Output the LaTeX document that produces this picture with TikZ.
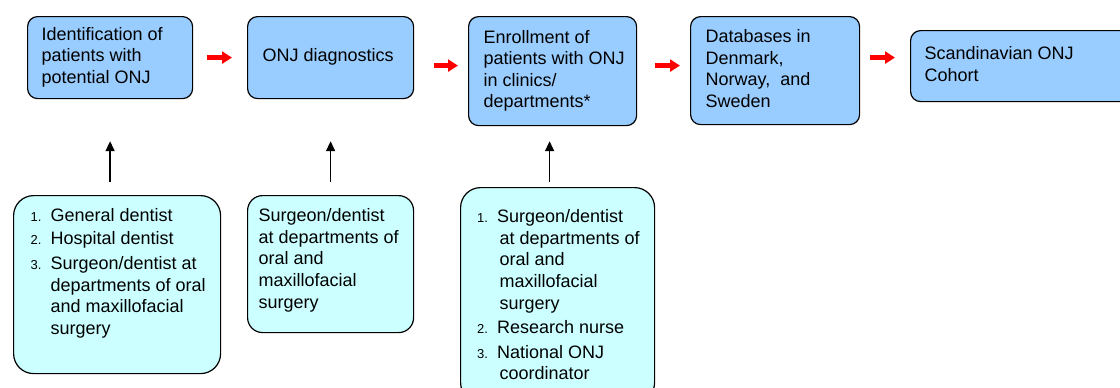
\documentclass[tikz,border=0pt]{standalone}
\usepackage{fontspec}
\setmainfont{Liberation Sans}
\usetikzlibrary{arrows.meta,calc}
\definecolor{topblue}{RGB}{153,204,255}
\definecolor{botcyan}{RGB}{204,255,255}
\newcommand\nb[1]{{\fontsize{13}{15}\selectfont #1}}
\begin{document}
\begin{tikzpicture}[x=1pt,y=-1pt,
  topbox/.style={draw=black,line width=1.2pt,fill=topblue,rounded corners=10pt,inner sep=0pt,anchor=north west},
  botbox/.style={draw=black,line width=1.2pt,fill=botcyan,rounded corners=18pt,inner sep=0pt,anchor=north west},
  flow/.style={red,line width=4.5pt,-{Triangle[length=10pt,width=12pt]}},
  feed/.style={black,line width=1.6pt,-{Triangle[length=10pt,width=9pt]}},
  font=\fontsize{18}{21.6}\selectfont]
\useasboundingbox (0,0) rectangle (1120,388);
\clip (0,0) rectangle (1120,388);

% top row
\node[topbox] (t1) at (27,16) {\parbox[c][82pt][c]{165pt}{\hspace*{14pt}\begin{tabular}[t]{@{}l@{}}Identification of\\patients with\\potential ONJ\end{tabular}}};
\node[topbox] (t2) at (247,16) {\parbox[c][82pt][c]{166pt}{\hspace*{15pt}\begin{tabular}[t]{@{}l@{}}ONJ diagnostics\end{tabular}}};
\node[topbox] (t3) at (468,16) {\parbox[c][109pt][c]{168pt}{\hspace*{15pt}\begin{tabular}[t]{@{}l@{}}Enrollment of\\patients with ONJ\\in clinics/\\departments*\end{tabular}}};
\node[topbox] (t4) at (690,16) {\parbox[c][108pt][c]{169pt}{\hspace*{15pt}\begin{tabular}[t]{@{}l@{}}Databases in\\Denmark,\\Norway,\ \ and\\Sweden\end{tabular}}};
\node[topbox] (t5) at (910,30) {\parbox[c][71pt][c]{220pt}{\hspace*{14pt}\begin{tabular}[t]{@{}l@{}}Scandinavian ONJ\\Cohort\end{tabular}}};

% bottom row
\node[botbox,rounded corners=20pt] (b1) at (13,195) {\parbox[c][178pt][t]{207pt}{\vspace*{11pt}\hspace*{17pt}\begin{tabular}[t]{@{}p{20pt}@{}l@{}}
\nb{1.} & General dentist\\[1.5pt]
\nb{2.} & Hospital dentist\\[3pt]
\nb{3.} & Surgeon/dentist at\\
 & departments of oral\\
 & and maxillofacial\\
 & surgery
\end{tabular}}};
\node[botbox,rounded corners=15pt] (b2) at (247,195) {\parbox[c][137pt][t]{166pt}{\vspace*{11pt}\hspace*{11pt}\begin{tabular}[t]{@{}l@{}}Surgeon/dentist\\at departments of\\oral and\\maxillofacial\\surgery\end{tabular}}};
\node[botbox,rounded corners=20pt] (b3) at (460,187) {\parbox[c][215pt][t]{194pt}{\vspace*{20pt}\hspace*{16.5pt}\begin{tabular}[t]{@{}p{20pt}@{}l@{}}
\nb{1.} & Surgeon/dentist\\
 & \hspace*{2.5pt}at departments of\\
 & \hspace*{2.5pt}oral and\\
 & \hspace*{2.5pt}maxillofacial\\
 & \hspace*{2.5pt}surgery\\[3pt]
\nb{2.} & Research nurse\\[3pt]
\nb{3.} & National ONJ\\
 & \hspace*{2.5pt}coordinator
\end{tabular}}};

% red flow arrows
\coordinate (a2) at ([yshift=5.5pt]t3.west);
\coordinate (a3) at ([yshift=5pt]t4.west);
\coordinate (a4) at ([yshift=8.5pt]t5.west);
\draw[flow,shorten <=14pt,shorten >=15pt] (t1.east) -- (t2.west);
\draw[flow,shorten <=20pt,shorten >=10pt] (t2.east |- a2) -- (a2);
\draw[flow,shorten <=18pt,shorten >=10pt] (t3.east |- a3) -- (a3);
\draw[flow,shorten <=10pt,shorten >=15pt] (t4.east |- a4) -- (a4);

% black feed arrows
\coordinate (f3) at ([xshift=-3pt]t3.south);
\draw[feed,shorten <=13pt,shorten >=42pt] (t1.south |- b1.north) -- (t1.south);
\draw[feed,shorten <=13pt,shorten >=42pt] (t2.south |- b2.north) -- (t2.south);
\draw[feed,shorten <=5pt,shorten >=15pt] (f3 |- b3.north) -- (f3);
\end{tikzpicture}
\end{document}
